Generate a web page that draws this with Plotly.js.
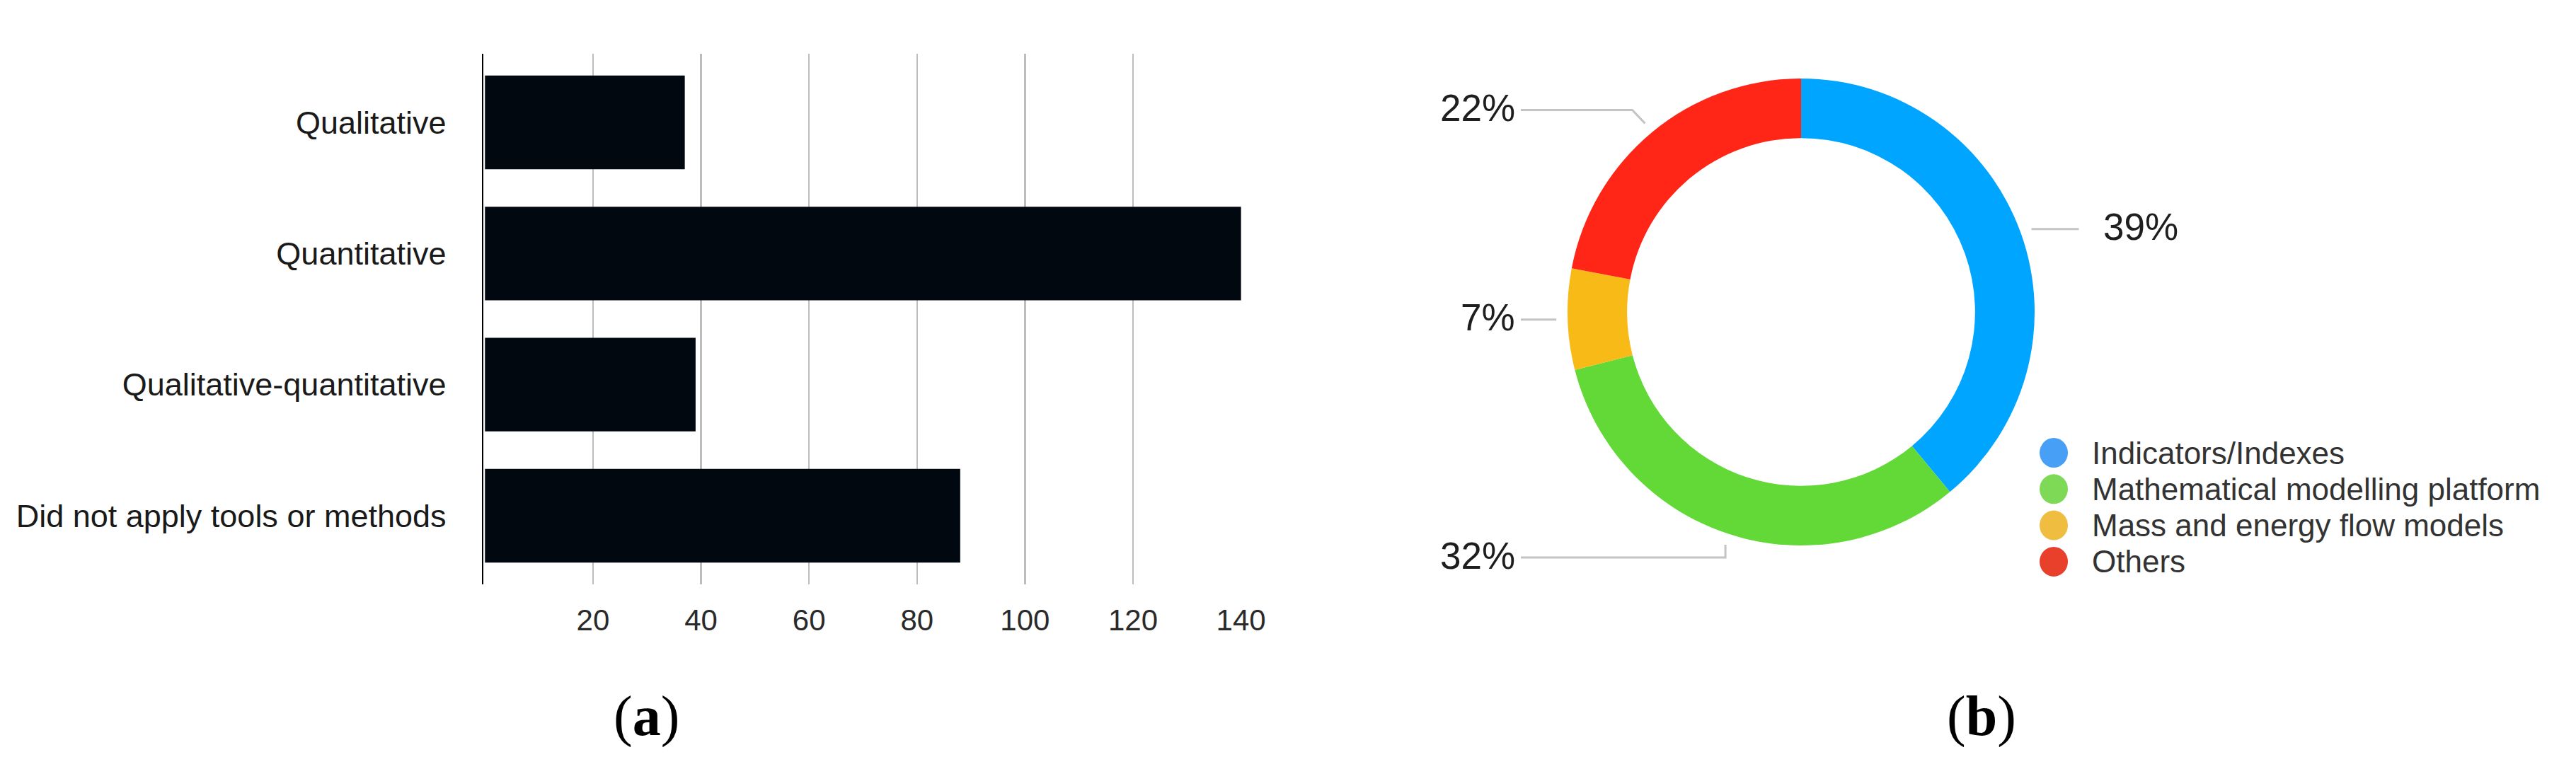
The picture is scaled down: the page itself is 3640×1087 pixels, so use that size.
<!DOCTYPE html>
<html>
<head>
<meta charset="utf-8">
<script src="https://cdn.plot.ly/plotly-3.0.1.min.js"></script>
<style>html,body{margin:0;padding:0;background:#fff;}#chart{width:3640px;height:1087px;}</style>
</head>
<body>
<div id="chart"></div>
<script>
// ---- Data: panel (a) ----
const methodCategories = ["Qualitative", "Quantitative", "Qualitative-quantitative", "Did not apply tools or methods"];
const methodCounts = [37, 140, 39, 88];
const xTickValues = [20, 40, 60, 80, 100, 120, 140];

// ---- Data: panel (b) ----
const toolLabels = ["Indicators/Indexes", "Mathematical modelling platform", "Mass and energy flow models", "Others"];
const toolShares = [39, 32, 7, 22];
const sliceColors = ["#00a5ff", "#62d937", "#f8ba16", "#ff2617"];
const legendColors = ["#47a0f5", "#7ed957", "#efbd40", "#e8402a"];

// ---- Geometry helpers (pixels -> paper) ----
const W = 3640, H = 1087;
const px = x => x / W;
const py = y => 1 - y / H;

// pie domain in pixels
const pieL = 2215, pieR = 2875, pieT = 111, pieB = 771;
const cx = (pieL + pieR) / 2, cy = (pieT + pieB) / 2;

const traces = [
  {
    type: "bar",
    orientation: "h",
    y: methodCategories,
    x: methodCounts,
    marker: { color: "#020810" },
    xaxis: "x", yaxis: "y",
    hoverinfo: "x+y"
  },
  {
    type: "pie",
    values: toolShares,
    labels: toolLabels,
    marker: { colors: sliceColors, line: { width: 0 } },
    hole: 0.745,
    sort: false,
    direction: "clockwise",
    rotation: 0,
    textinfo: "none",
    showlegend: false,
    domain: { x: [px(pieL), px(pieR)], y: [py(pieB), py(pieT)] }
  }
];

const shapes = [];
const annotations = [];

// percentage labels with leader lines, anchored at slice mid-angles
const total = toolShares.reduce((a, b) => a + b, 0);
const anchorR = 346;
const elbow = [[0, 0], [0, 18], [0, 0], [-18, -19]]; // per-label leader elbow offsets (styling)
const leftTextX = 2143, leftLineX = 2149, rightLineLen = 67, rightTextGap = 32;
let cum = 0;
toolShares.forEach((v, i) => {
  const mid = (cum + v / 2) / total;
  cum += v;
  const th = mid * 2 * Math.PI;
  const ax = cx + anchorR * Math.sin(th);
  const ay = cy - anchorR * Math.cos(th);
  const ex = ax + elbow[i][0], ey = ay + elbow[i][1];
  let endX, textX, xanchor;
  if (ax > cx) { endX = ex + rightLineLen; textX = endX + rightTextGap; xanchor = "left"; }
  else { endX = leftLineX; textX = leftTextX; xanchor = "right"; }
  shapes.push({
    type: "path", xref: "paper", yref: "paper",
    path: `M ${px(ax)} ${py(ay)} L ${px(ex)} ${py(ey)} L ${px(endX)} ${py(ey)}`,
    line: { color: "#c4c4c4", width: 3 }
  });
  annotations.push({
    xref: "paper", yref: "paper", x: px(textX), y: py(ey - 3),
    xanchor: xanchor, yanchor: "middle", showarrow: false,
    text: `${v}%`,
    font: { family: "Liberation Sans, Arial, sans-serif", size: 53, color: "#1e1e1e" }
  });
});

// custom legend with round markers
const legX = 2902, legTextX = 2954, legY0 = 640, legStep = 51.3, legD = 40;
toolLabels.forEach((lab, i) => {
  const yy = legY0 + i * legStep;
  shapes.push({
    type: "circle", xref: "paper", yref: "paper",
    xsizemode: "pixel", ysizemode: "pixel",
    xanchor: px(legX), yanchor: py(yy),
    x0: -legD / 2, x1: legD / 2, y0: -legD / 2 - 1, y1: legD / 2 + 1,
    fillcolor: legendColors[i], line: { width: 0 }
  });
  annotations.push({
    xref: "paper", yref: "paper", x: px(legTextX), y: py(yy),
    xanchor: "left", yanchor: "middle", showarrow: false,
    text: lab,
    font: { family: "Liberation Sans, Arial, sans-serif", size: 44, color: "#333333" }
  });
});

// panel captions
[["a", 913], ["b", 2800]].forEach(([t, x]) => {
  annotations.push({
    xref: "paper", yref: "paper", x: px(x), y: py(1012),
    xanchor: "center", yanchor: "middle", showarrow: false,
    text: `(<b>${t}</b>)`,
    font: { family: "Liberation Serif, Times New Roman, serif", size: 80, color: "#000000" }
  });
});

const layout = {
  width: W, height: H,
  margin: { l: 0, r: 0, t: 0, b: 0, pad: 0 },
  paper_bgcolor: "#ffffff",
  plot_bgcolor: "#ffffff",
  showlegend: false,
  bargap: 0.285,
  xaxis: {
    domain: [px(683), px(1754)],
    range: [-0.3, 140.05],
    tickvals: xTickValues,
    ticktext: xTickValues.map(String),
    showgrid: true, gridcolor: "#bdbdbd", gridwidth: 2.5,
    zeroline: false, showline: false, ticks: "",
    ticklabelstandoff: 22,
    tickfont: { family: "Liberation Sans, Arial, sans-serif", size: 42, color: "#2a2a2a" },
    fixedrange: true
  },
  yaxis: {
    domain: [py(826), py(76)],
    type: "category",
    range: [3.524, -0.524],
    showgrid: false, zeroline: false,
    showline: true, linecolor: "#000000", linewidth: 2.5,
    ticks: "",
    ticklabelstandoff: 41,
    tickfont: { family: "Liberation Sans, Arial, sans-serif", size: 45, color: "#1a1a1a" },
    fixedrange: true
  },
  shapes: shapes,
  annotations: annotations
};

Plotly.newPlot("chart", traces, layout, { staticPlot: true, displayModeBar: false });
</script>
</body>
</html>
